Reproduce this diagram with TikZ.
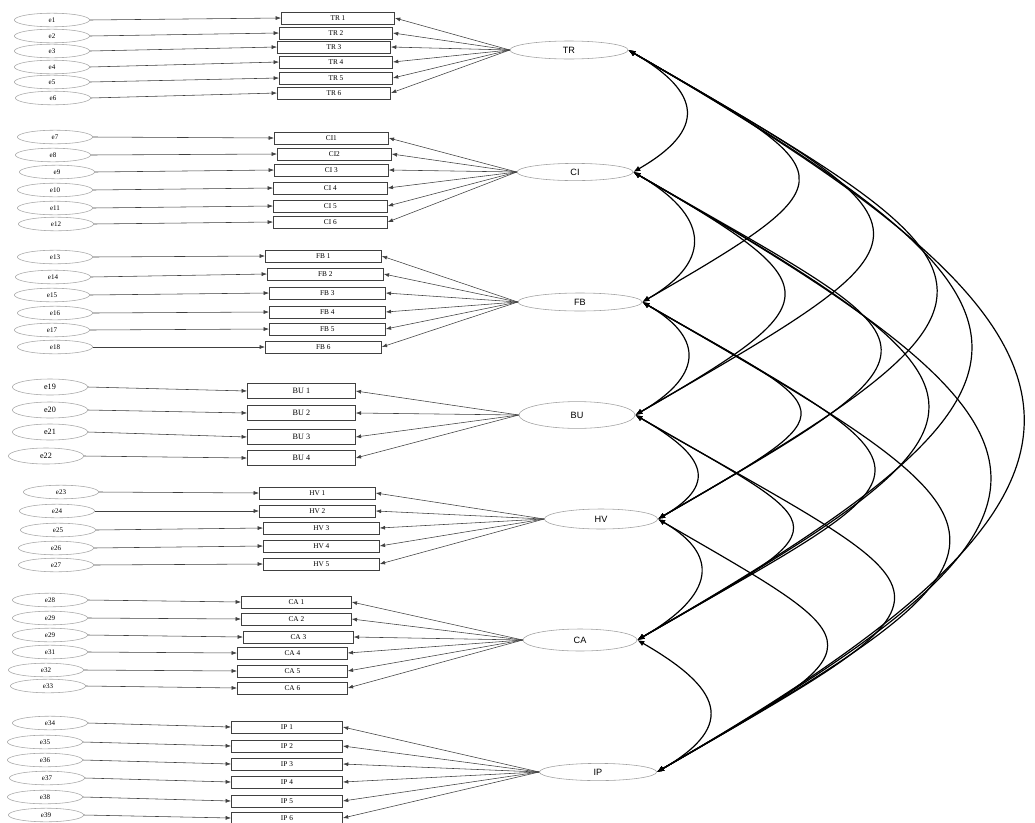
\documentclass[tikz,border=0pt]{standalone}
\usepackage{fontspec}
\setmainfont{Liberation Serif}
\newfontfamily\factorfont{Liberation Sans}
\usetikzlibrary{shapes.geometric,arrows.meta}

\begin{document}
\begin{tikzpicture}[x=0.025cm, y=0.025cm,
  errnode/.style={draw=gray!70, line width=0.4pt, ellipse, minimum width=1.88cm, minimum height=0.34cm, inner sep=0pt, font=\fontsize{5}{6}\selectfont},
  itembox/.style={draw=black!75, line width=0.5pt, rectangle, minimum width=2.85cm, minimum height=0.3cm, inner sep=0pt, font=\fontsize{5.2}{6}\selectfont},
  factor/.style={draw=gray!75, line width=0.4pt, ellipse, minimum width=2.9cm, minimum height=0.45cm, inner sep=0pt, font=\factorfont\fontsize{6.5}{7}\selectfont},
  arr/.style={-{Latex[length=3.8pt,width=2.8pt]}, draw=black!75, line width=0.4pt},
  cov/.style={{Latex[length=5pt,width=4pt]}-{Latex[length=5pt,width=4pt]}, line width=0.85pt}
]
\useasboundingbox (0,0) rectangle (1035,-823);

% latent factors
\node[factor, minimum width=2.95cm] (TR) at (569,-50) {TR};
\node[factor, minimum width=2.9cm, minimum height=0.43cm] (CI) at (575,-172) {CI};
\node[factor, minimum width=3.1cm] (FB) at (580,-302) {FB};
\node[factor, minimum width=2.9cm, minimum height=0.67cm] (BU) at (577,-415) {BU};
\node[factor, minimum width=2.83cm, minimum height=0.5cm] (HV) at (601,-519) {HV};
\node[factor, minimum width=2.85cm, minimum height=0.55cm] (CA) at (580,-640) {CA};
\node[factor, minimum width=2.93cm, minimum height=0.43cm] (IP) at (598,-772) {IP};

% TR indicators
\foreach \i/\k/\lab/\y/\bx/\ey/\ex in {1/1/TR 1/18/281/20/52, 2/2/TR 2/33/279/36/52, 3/3/TR 3/47/277/51/52,
    4/4/TR 4/62/279/67/52, 5/5/TR 5/78/279/82/52, 6/6/TR 6/93/277/98/53}{
  \node[errnode] (e\i) at (\ex,-\ey) {e\i};
  \node[itembox, minimum width=2.83cm, anchor=west] (TR\k) at (\bx,-\y) {\lab};
  \draw[arr] (e\i.east) -- (TR\k.west);
  \draw[arr] (TR.west) -- (TR\k.east);
}

% CI indicators
\foreach \i/\k/\lab/\y/\bx/\ey/\ex in {7/1/CI1/138/274/137/55, 8/2/CI2/154/277/155/53, 9/3/CI 3/170/274/172/57,
    10/4/CI 4/188/273/190/55, 11/5/CI 5/206/273/208/55, 12/6/CI 6/222/273/224/56}{
  \node[errnode] (e\i) at (\ex,-\ey) {e\i};
  \node[itembox, anchor=west] (CI\k) at (\bx,-\y) {\lab};
  \draw[arr] (e\i.east) -- (CI\k.west);
  \draw[arr] (CI.west) -- (CI\k.east);
}

% FB indicators
\foreach \i/\k/\lab/\y/\bx/\ey/\ex in {13/1/FB 1/256/265/257/55, 14/2/FB 2/274/267/277/53, 15/3/FB 3/293/269/295/52,
    16/4/FB 4/312/269/313/55, 17/5/FB 5/329/269/330/52, 18/6/FB 6/347/265/347/55}{
  \node[errnode] (e\i) at (\ex,-\ey) {e\i};
  \node[itembox, minimum width=2.9cm, anchor=west] (FB\k) at (\bx,-\y) {\lab};
  \draw[arr] (e\i.east) -- (FB\k.west);
  \draw[arr] (FB.west) -- (FB\k.east);
}

% BU indicators
\foreach \i/\k/\lab/\y/\bx/\ey/\ex in {19/1/BU 1/391/247/387/50, 20/2/BU 2/413/247/410/50,
    21/3/BU 3/437/247/432/50, 22/4/BU 4/458/247/456/46}{
  \node[errnode, minimum height=0.4cm, font=\fontsize{5.8}{6}\selectfont] (e\i) at (\ex,-\ey) {e\i};
  \node[itembox, minimum width=2.7cm, minimum height=0.36cm, font=\fontsize{5.8}{6}\selectfont, anchor=west] (BU\k) at (\bx,-\y) {\lab};
  \draw[arr] (e\i.east) -- (BU\k.west);
  \draw[arr] (BU.west) -- (BU\k.east);
}

% HV indicators
\foreach \i/\k/\lab/\y/\bx/\ey/\ex in {23/1/HV 1/493/259/492/61, 24/2/HV 2/511/259/511/57, 25/3/HV 3/528/263/530/58,
    26/4/HV 4/546/263/548/56, 27/5/HV 5/564/263/565/56}{
  \node[errnode] (e\i) at (\ex,-\ey) {e\i};
  \node[itembox, minimum width=2.9cm, anchor=west] (HV\k) at (\bx,-\y) {\lab};
  \draw[arr] (e\i.east) -- (HV\k.west);
  \draw[arr] (HV.west) -- (HV\k.east);
}

% CA indicators (error label printed separately)
\foreach \i/\en/\k/\lab/\y/\bx/\ey/\ex in {28/28/1/CA 1/602/241/600/50, 29/29/2/CA 2/619/241/618/50, 30/29/3/CA 3/637/243/635/50,
    31/31/4/CA 4/653/237/652/50, 32/32/5/CA 5/671/237/670/46, 33/33/6/CA 6/688/237/686/48}{
  \node[errnode] (e\i) at (\ex,-\ey) {e\en};
  \node[itembox, minimum width=2.75cm, anchor=west] (CA\k) at (\bx,-\y) {\lab};
  \draw[arr] (e\i.east) -- (CA\k.west);
  \draw[arr] (CA.west) -- (CA\k.east);
}

% IP indicators
\foreach \i/\k/\lab/\y/\bx/\ey/\ex in {34/1/IP 1/727/231/723/50, 35/2/IP 2/746/231/742/45, 36/3/IP 3/764/231/760/45,
    37/4/IP 4/782/231/778/47, 38/5/IP 5/801/231/797/45, 39/6/IP 6/818/231/815/46}{
  \node[errnode] (e\i) at (\ex,-\ey) {e\i};
  \node[itembox, minimum width=2.78cm, anchor=west] (IP\k) at (\bx,-\y) {\lab};
  \draw[arr] (e\i.east) -- (IP\k.west);
  \draw[arr] (IP.west) -- (IP\k.east);
}

% covariances between factors
\foreach \a/\b/\c in {TR/CI/85, CI/FB/85, FB/BU/75, BU/HV/75, HV/CA/80, CA/IP/95,
    TR/FB/250, CI/BU/230, FB/HV/230, BU/CA/240, HV/IP/260,
    TR/BU/370, CI/HV/360, FB/CA/360, BU/IP/380,
    TR/HV/450, CI/CA/450, FB/IP/460,
    TR/CA/520, CI/IP/530,
    TR/IP/585}
  \draw[cov] (\a.east) .. controls +(-30:\c) and +(30:\c) .. (\b.east);
\end{tikzpicture}
\end{document}
